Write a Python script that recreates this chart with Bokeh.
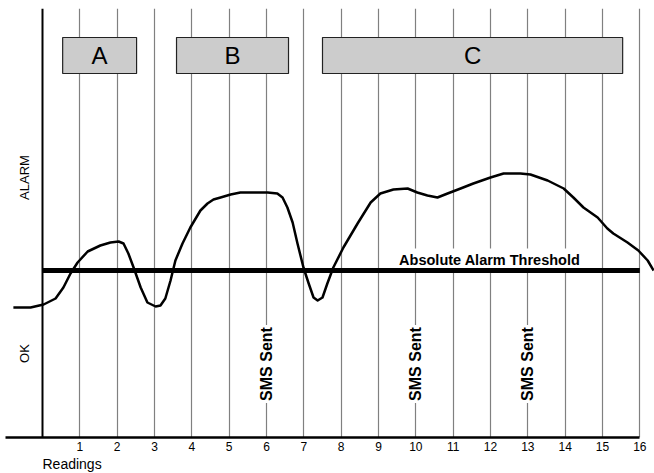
from math import pi
from bokeh.plotting import figure
from bokeh.models import Range1d, FixedTicker, Span, Title
from bokeh.core.properties import value
from bokeh.embed import file_html
from bokeh.resources import INLINE

FONT = "Liberation Sans"

# ---- data ----
readings = list(range(1, 17))
tick_labels = [str(r) for r in readings]

curve_x = [-0.78, -0.32, 0.03, 0.35, 0.56, 0.75, 0.94, 1.21, 1.55, 1.82, 2.04, 2.17,
           2.30, 2.44, 2.63, 2.81, 3.03, 3.16, 3.29, 3.43, 3.56, 3.75, 3.96, 4.23,
           4.42, 4.58, 4.77, 5.04, 5.30, 6.03, 6.29, 6.43, 6.56, 6.70, 6.83, 6.99,
           7.13, 7.26, 7.37, 7.50, 7.63, 7.79, 8.06, 8.44, 8.79, 9.05, 9.40, 9.78,
           10.04, 10.31, 10.58, 10.85, 11.20, 11.54, 12.00, 12.35, 12.80, 13.07,
           13.53, 13.96, 14.22, 14.49, 14.87, 15.13, 15.29, 15.67, 15.96, 16.21, 16.37]
curve_level = [130, 130, 133, 139, 150, 164, 175, 186, 192, 195, 196, 194,
               184, 170, 150, 135, 131, 132, 139, 157, 177, 194, 210, 227,
               234, 238, 240, 243, 245, 245, 244, 240, 230, 215, 194, 170,
               154, 140, 137, 140, 154, 170, 190, 214, 235, 244, 248, 249,
               245, 242, 240, 244, 249, 254, 260, 264, 264, 263,
               257, 249, 240, 230, 220, 209, 204, 195, 187, 177, 167]

threshold_level = 167
threshold_start = 0
threshold_end = 16
threshold_label = "Absolute Alarm Threshold"
threshold_label_x = 11.98
threshold_label_level = 178

phase_names = ["A", "B", "C"]
phase_start = [0.54, 3.59, 7.50]
phase_end = [2.52, 6.59, 15.54]
phase_bottom = 364
phase_top = 400

sms_readings = [6, 10, 13]
sms_text = "SMS Sent"
sms_level = 73.5

state_names = ["ALARM", "OK"]
state_levels = [260, 84]
state_x = -0.48

# ---- figure ----
p = figure(width=654, height=473,
           x_range=Range1d(-1.125, 16.393), y_range=Range1d(0, 429),
           output_backend="svg", toolbar_location=None,
           min_border_left=0, min_border_right=0, min_border_top=8,
           min_border_bottom=36, y_axis_location=None)
p.outline_line_color = None
p.background_fill_color = "white"
p.border_fill_color = "white"
p.ygrid.visible = False
p.xgrid.ticker = FixedTicker(ticks=readings)
p.xgrid.grid_line_color = "#808080"
p.xgrid.grid_line_width = 1.2

xa = p.xaxis[0]
xa.ticker = FixedTicker(ticks=readings)
xa.major_label_overrides = {r: t for r, t in zip(readings, tick_labels)}
xa.axis_line_color = "black"
xa.axis_line_width = 2.5
xa.bounds = (-1, 16)
xa.major_tick_line_color = None
xa.minor_tick_line_color = None
xa.major_tick_out = 0
xa.major_tick_in = 0
xa.major_label_standoff = 4
xa.major_label_text_font = FONT
xa.major_label_text_font_size = "12px"
xa.major_label_text_color = "black"

p.add_layout(Title(text="Readings", align="left", offset=42, standoff=0,
                   text_font=FONT, text_font_size="14px", text_font_style="normal",
                   text_color="black"), "below")

p.add_layout(Span(location=0, dimension="height", line_color="black", line_width=2))

# phase boxes
p.quad(left=phase_start, right=phase_end,
       bottom=[phase_bottom] * len(phase_names), top=[phase_top] * len(phase_names),
       fill_color="#cccccc", line_color="#222222", line_width=1.2)
p.text(x=[(s + e) / 2 for s, e in zip(phase_start, phase_end)],
       y=[(phase_bottom + phase_top) / 2] * len(phase_names), text=phase_names,
       text_align="center", text_baseline="middle", text_font=value(FONT),
       text_font_size="24px", text_color="black")

# labels with white background
p.text(x=[threshold_label_x], y=[threshold_label_level], text=[threshold_label],
       text_align="center", text_baseline="middle", text_font=value(FONT),
       text_font_size="14.5px", text_font_style="bold", text_color="black",
       background_fill_color="white", padding=3)
p.text(x=sms_readings, y=[sms_level] * len(sms_readings), text=[sms_text] * len(sms_readings),
       angle=pi / 2, text_align="center", text_baseline="middle", text_font=value(FONT),
       text_font_size="16px", text_font_style="bold", text_color="black",
       background_fill_color="white", padding=2)

# threshold
p.line(x=[threshold_start, threshold_end], y=[threshold_level, threshold_level],
       line_color="black", line_width=5)

# signal curve
p.line(x=curve_x, y=curve_level, line_color="black", line_width=2.5, line_join="round")

# states
p.text(x=[state_x] * len(state_names), y=state_levels, text=state_names, angle=pi / 2,
       text_align="center", text_baseline="middle", text_font=value(FONT),
       text_font_size="13px", text_color="black")

open("out.html", "w").write(file_html(p, INLINE))
